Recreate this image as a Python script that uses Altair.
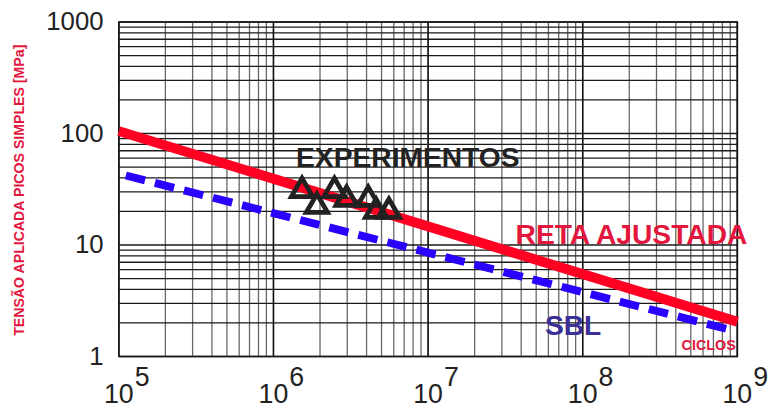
import altair as alt
import pandas as pd

# ---- data ----
red_x = [1e5, 1e9]
red_y = [105, 2.05]
blue_x = [1.11e5, 8.5e8]
blue_y = [42, 1.77]
exp_x = [1.53e6, 1.91e6, 2.48e6, 2.97e6, 4.10e6, 4.61e6, 5.58e6]
exp_y = [32.9, 23.7, 32.9, 27.4, 27.4, 21.4, 21.4]
x_decades = [1e5, 1e6, 1e7, 1e8, 1e9]
x_exponents = ["5", "6", "7", "8", "9"]
y_ticks = [1, 10, 100, 1000]
x_grid = [k * 10 ** n for n in range(5, 9) for k in range(1, 10)] + [1e9]
y_grid = [k * 10 ** n for n in range(0, 3) for k in range(1, 10)] + [1000]

FONT = "Liberation Sans"
W, H = 625, 338

xs = alt.Scale(type="log", domain=[1e5, 1e9])
ys = alt.Scale(type="log", domain=[1, 1000])

xgrid_df = pd.DataFrame({"x": x_grid})
ygrid_df = pd.DataFrame({"y": y_grid})
dec_df = pd.DataFrame({"x": x_decades, "e": x_exponents})

vgrid = alt.Chart(xgrid_df).mark_rule(color="#666", strokeWidth=1.3).encode(
    x=alt.X("x:Q", scale=xs, axis=None))
vmajor = alt.Chart(dec_df).mark_rule(color="#111", strokeWidth=1.5).encode(
    x=alt.X("x:Q", scale=xs, axis=None))
hgrid = alt.Chart(ygrid_df).mark_rule(color="#1a1a1a", strokeWidth=1.3).encode(
    y=alt.Y("y:Q", scale=ys,
            axis=alt.Axis(values=y_ticks, format="d", ticks=False, domain=False,
                          grid=False, labelFontSize=26, labelFont=FONT,
                          labelColor="#222", labelPadding=16, title=None)))

red = alt.Chart(pd.DataFrame({"x": red_x, "y": red_y})).mark_line(
    color="#ff0022", strokeWidth=10, strokeCap="butt").encode(
    x=alt.X("x:Q", scale=xs), y=alt.Y("y:Q", scale=ys))
blue = alt.Chart(pd.DataFrame({"x": blue_x, "y": blue_y})).mark_line(
    color="#2a00ff", strokeWidth=8, strokeDash=[20, 10.3], strokeCap="butt").encode(
    x=alt.X("x:Q", scale=xs), y=alt.Y("y:Q", scale=ys))
pts = alt.Chart(pd.DataFrame({"x": exp_x, "y": exp_y})).mark_point(
    shape="triangle-up", filled=False, stroke="#222", strokeWidth=4.8, size=460,
    opacity=1).encode(x=alt.X("x:Q", scale=xs), y=alt.Y("y:Q", scale=ys))

ten = alt.Chart(dec_df).mark_text(
    text="10", font=FONT, fontSize=27, color="#222", align="center",
    baseline="alphabetic").encode(x=alt.X("x:Q", scale=xs), y=alt.value(385))
sup = alt.Chart(dec_df).mark_text(
    font=FONT, fontSize=27, color="#222", align="left", baseline="alphabetic",
    dx=16).encode(x=alt.X("x:Q", scale=xs), y=alt.value(368), text="e:N")

def label(txt, x, y, size, color, **kw):
    return alt.Chart(pd.DataFrame({"t": [txt]})).mark_text(
        font=FONT, fontSize=size, fontWeight="bold", color=color,
        align="center", baseline="middle", **kw).encode(
        text="t:N", x=alt.value(x), y=alt.value(y))

t1 = label("EXPERIMENTOS", 292, 138, 28.5, "#222")
t2 = label("RETA AJUSTADA", 518, 215, 28.5, "#e3173e")
t3 = label("SBL", 459, 307, 28.5, "#3b2f98")
t4 = label("CICLOS", 596, 327, 14.5, "#e3173e")
t5 = label("TENSÃO APLICADA PICOS SIMPLES [MPa]", -100, 170, 14.3, "#e3173e", angle=270)

chart = alt.layer(vgrid, vmajor, hgrid, red, blue, pts, ten, sup,
                  t1, t2, t3, t4, t5).properties(
    width=W, height=H,
    autosize=alt.AutoSizeParams(type="none"),
    padding={"left": 112, "top": 12, "right": 33, "bottom": 58},
    background="white",
).configure_view(stroke="#111", strokeWidth=1.5)

chart.save("out.html", embed_options={"renderer": "svg", "actions": False})
